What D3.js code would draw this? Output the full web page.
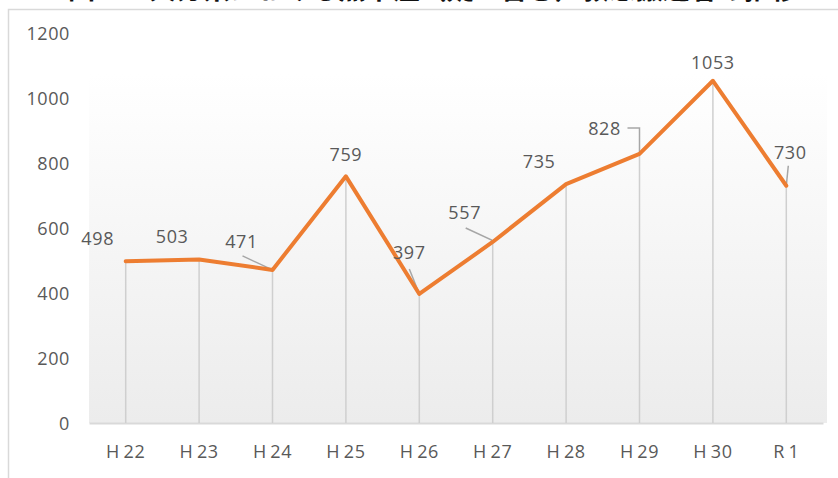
<!DOCTYPE html>
<html>
<head>
<meta charset="utf-8">
<script src="https://cdn.jsdelivr.net/npm/d3@7"></script>
<style>
  html, body { margin: 0; padding: 0; background: #fff; }
  svg { display: block; }
</style>
</head>
<body>
<svg id="chart" width="838" height="478"></svg>
<script>
// 熱中症（疑い含む）救急搬送者数の推移
const categories = ["H\u200922", "H\u200923", "H\u200924", "H\u200925", "H\u200926",
                    "H\u200927", "H\u200928", "H\u200929", "H\u200930", "R\u20091"];
const values = [498, 503, 471, 759, 397, 557, 735, 828, 1053, 730];
const yTicks = [0, 200, 400, 600, 800, 1000, 1200];
const title = "図１　大分県における熱中症（疑い含む）救急搬送者の推移";

// label offsets (dx, dy from point) and optional leader lines
const labelPlacement = [
  { dx: -28, dy: -16 },
  { dx: -27, dy: -17 },
  { dx: -31, dy: -22, leader: [[-30, -14], [0, 0]] },
  { dx: 0, dy: -15 },
  { dx: -10, dy: -35, leader: [[-10, -25], [0, 0]] },
  { dx: -28, dy: -23, leader: [[-27, -14], [-1, -2], [0, 0]] },
  { dx: -27, dy: -16 },
  { dx: -35, dy: -19, leader: [[-12, -26], [0, -26], [0, 0]] },
  { dx: 0, dy: -12 },
  { dx: 4, dy: -27, leader: [[2, -20], [0, 0]] }
];

const svg = d3.select("#chart");
const font = "'Open Sans', 'Noto Sans', sans-serif";
const textColor = "#595959";
const fontSize = "18px";
const spacing = "0.6px";

const x = d3.scaleBand().domain(categories).range([89, 823]);
const y = d3.scaleLinear().domain([0, 1200]).range([423, 33]);

// title (runs off the top of the page)
svg.append("text")
  .attr("x", 68).attr("y", -1)
  .attr("textLength", 730).attr("lengthAdjust", "spacingAndGlyphs")
  .style("font-family", "'Noto Sans CJK JP', sans-serif")
  .style("font-weight", "bold").style("font-size", "26px")
  .attr("fill", "#111")
  .text(title);

// chart frame
svg.append("rect")
  .attr("x", 8.5).attr("y", 9.5).attr("width", 840).attr("height", 480)
  .attr("fill", "#fff").attr("stroke", "#d9d9d9").attr("stroke-width", 1.5);

// plot area background gradient
const defs = svg.append("defs");
const grad = defs.append("linearGradient").attr("id", "plotBg")
  .attr("x1", 0).attr("y1", 0).attr("x2", 0).attr("y2", 1);
grad.append("stop").attr("offset", "0%").attr("stop-color", "#ffffff");
grad.append("stop").attr("offset", "100%").attr("stop-color", "#ececec");
svg.append("rect")
  .attr("x", x.range()[0]).attr("y", y(1200) + 40)
  .attr("width", x.range()[1] - x.range()[0] + 4).attr("height", y(0) - y(1200) - 40)
  .attr("fill", "url(#plotBg)");

// y axis labels
const yAxis = d3.axisLeft(y).tickValues(yTicks).tickFormat(d3.format("d")).tickSize(0).tickPadding(0);
const gy = svg.append("g").attr("transform", "translate(70,0)").call(yAxis);
gy.select(".domain").remove();
gy.selectAll("text")
  .style("font-family", font).style("font-size", fontSize).style("letter-spacing", spacing)
  .attr("fill", textColor).attr("dy", "0.35em");

// x axis
const xAxis = d3.axisBottom(x).tickSize(0).tickPadding(0);
const gx = svg.append("g").attr("transform", `translate(0,${y(0)})`).call(xAxis);
gx.select(".domain").attr("stroke", "#d9d9d9").attr("stroke-width", 2);
gx.selectAll("text")
  .style("font-family", font).style("font-size", fontSize).style("letter-spacing", spacing)
  .attr("fill", textColor).attr("y", 22);

const cx = d => x(d) + x.bandwidth() / 2;

// drop lines from each point to the axis
svg.append("g").selectAll("line").data(values).join("line")
  .attr("x1", (d, i) => cx(categories[i])).attr("x2", (d, i) => cx(categories[i]))
  .attr("y1", d => y(d)).attr("y2", y(0))
  .attr("stroke", "#cfcfcf").attr("stroke-width", 1.5);

// leader lines
svg.append("g").selectAll("path")
  .data(values.map((v, i) => ({ v, i, p: labelPlacement[i] })).filter(d => d.p.leader))
  .join("path")
  .attr("d", d => {
    const px = cx(categories[d.i]), py = y(d.v);
    return d3.line()(d.p.leader.map(([a, b]) => [px + a, py + b]));
  })
  .attr("fill", "none").attr("stroke", "#a6a6a6").attr("stroke-width", 1.5);

// line series
const line = d3.line().x((d, i) => cx(categories[i])).y(d => y(d));
svg.append("path").datum(values)
  .attr("d", line)
  .attr("fill", "none").attr("stroke", "#ed7d31")
  .attr("stroke-width", 4).attr("stroke-linejoin", "round").attr("stroke-linecap", "round");

// data labels
svg.append("g").selectAll("text").data(values).join("text")
  .attr("x", (d, i) => cx(categories[i]) + labelPlacement[i].dx)
  .attr("y", (d, i) => y(d) + labelPlacement[i].dy)
  .attr("text-anchor", "middle")
  .style("font-family", font).style("font-size", fontSize).style("letter-spacing", spacing)
  .attr("fill", textColor)
  .text(d => d);
</script>
</body>
</html>
